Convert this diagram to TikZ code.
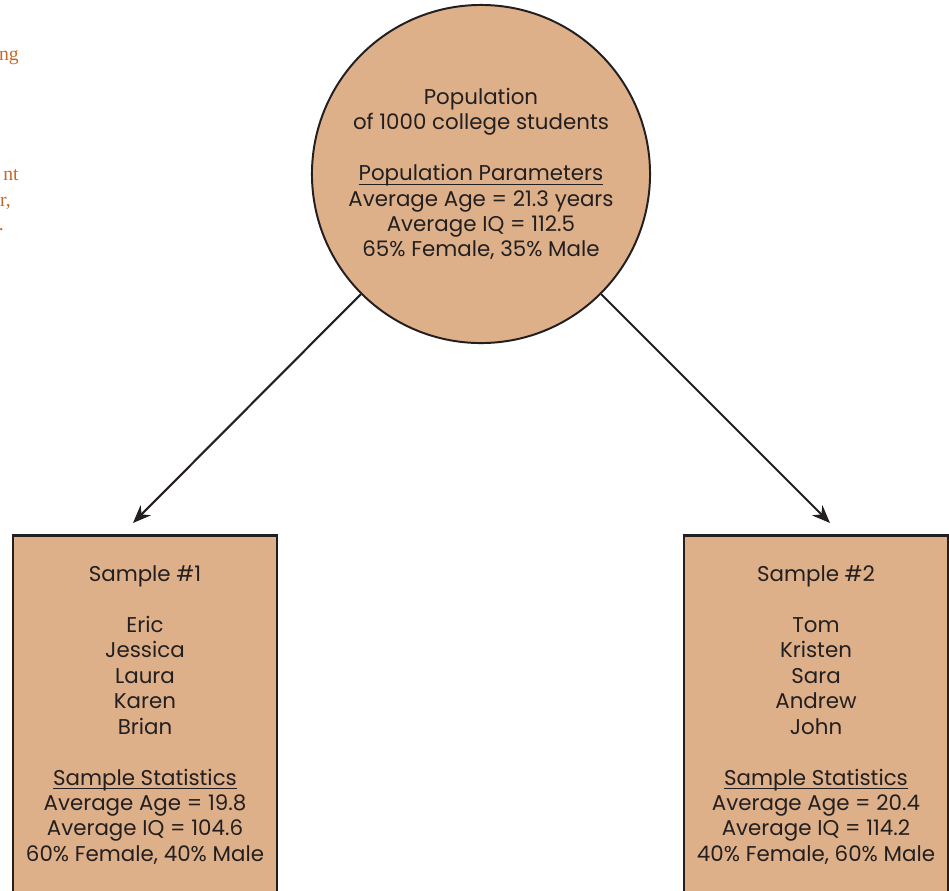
\documentclass[tikz,border=0pt]{standalone}
\usepackage{fontspec}
\setmainfont{Poppins}
\newfontfamily\pageserif{Liberation Serif}
\usepackage{xcolor}
\usetikzlibrary{arrows.meta,calc,positioning}
\definecolor{sandfill}{RGB}{221,176,138}
\definecolor{inkgray}{RGB}{35,31,32}
\definecolor{pageorange}{RGB}{196,106,40}
\newcommand{\ulbar}[1]{\setbox0\hbox{#1}\rlap{\rule[-3pt]{\wd0}{0.8pt}}\box0}
\tikzset{popnode/.style={circle,draw=inkgray,line width=1.4pt,fill=sandfill,minimum size=8.45cm,inner sep=0pt},
  samplebox/.style={draw=inkgray,line width=2pt,fill=sandfill,minimum width=6.6cm,minimum height=10cm,anchor=north,inner sep=0pt},
  lbl/.style={align=center,text=inkgray,inner sep=0pt,font=\fontsize{15.2}{18.1}\selectfont},
  arr/.style={-{Stealth[length=4.5mm,width=3.6mm]},line width=1.5pt,draw=inkgray},
  margintxt/.style={text=pageorange,font=\pageserif\fontsize{14}{16}\selectfont,anchor=base east,inner sep=0pt}}

\begin{document}
\begin{tikzpicture}[x=0.025cm,y=-0.025cm]
\useasboundingbox (0,0) rectangle (949,890);
\clip (0,0) rectangle (949,890);
\node[margintxt] (m1) at (19,60) {ng};
\node[margintxt] (m2) at (19,180) {nt};
\node[margintxt] (m3) at (11,206) {r,};
\node[margintxt] (m4) at (4,230) {.};
\node[popnode] (pop) at (481,174) {};
\node[lbl] (poptxt) at (pop.center) {Population\\of 1000 college students\\[18.1pt]\ulbar{Population Parameters}\\Average Age = 21.3 years\\Average IQ = 112.5\\65\% Female, 35\% Male};
\node[samplebox] (s1) at (145,534) {};
\node[samplebox] (s2) at (816,534) {};
\node[lbl] (s1txt) at (145,715) {Sample \#1\\[18.1pt]Eric\\Jessica\\Laura\\Karen\\Brian\\[18.1pt]\ulbar{Sample Statistics}\\Average Age = 19.8\\Average IQ = 104.6\\60\% Female, 40\% Male};
\node[lbl] (s2txt) at (816,715) {Sample \#2\\[18.1pt]Tom\\Kristen\\Sara\\Andrew\\John\\[18.1pt]\ulbar{Sample Statistics}\\Average Age = 20.4\\Average IQ = 114.2\\40\% Female, 60\% Male};
\coordinate (a1) at (133,523);
\coordinate (a2) at (830,523);
\draw[arr] (pop.225) -- (a1);
\draw[arr] (pop.-45) -- (a2);
\end{tikzpicture}
\end{document}
